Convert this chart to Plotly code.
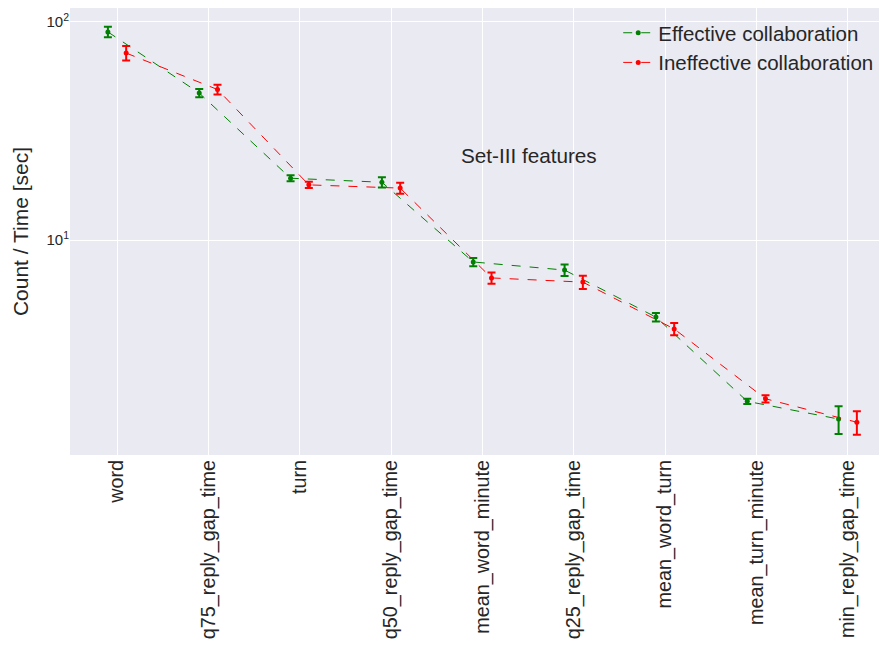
import plotly.graph_objects as go

categories = ["word", "q75_reply_gap_time", "turn", "q50_reply_gap_time",
              "mean_word_minute", "q25_reply_gap_time", "mean_word_turn",
              "mean_turn_minute", "min_reply_gap_time"]
eff_mean = [90, 47.2, 19.2, 18.4, 7.93, 7.28, 4.43, 1.82, 1.51]
eff_err = [5, 2, 0.6, 1.0, 0.35, 0.45, 0.2, 0.05, 0.22]
ineff_mean = [72, 49, 17.9, 17.3, 6.70, 6.41, 3.91, 1.87, 1.46]
ineff_err = [5.5, 2.5, 0.6, 1.0, 0.4, 0.45, 0.25, 0.07, 0.18]
ytick_vals = [10, 100]
ytick_text = ["10<sup>1</sup>", "10<sup>2</sup>"]

offset = 0.1
x_idx = list(range(len(categories)))

fig = go.Figure()
for name, mean, err, color, off in [
    ("Effective collaboration", eff_mean, eff_err, "green", -offset),
    ("Ineffective collaboration", ineff_mean, ineff_err, "red", offset),
]:
    fig.add_trace(go.Scatter(
        x=[i + off for i in x_idx], y=mean, name=name, mode="lines+markers",
        line=dict(color=color, width=1, dash="dash"),
        marker=dict(color=color, size=5),
        error_y=dict(type="data", array=err, visible=True, color=color,
                     thickness=2, width=4),
    ))

fig.add_annotation(x=0.562, y=0.671, xref="paper", yref="paper",
                   xanchor="center", yanchor="middle",
                   text="Set-III features", showarrow=False,
                   font=dict(size=20.7, color="#262626"))

fig.update_layout(
    width=879, height=642,
    margin=dict(l=62, r=0, t=0, b=195, autoexpand=False),
    paper_bgcolor="white", plot_bgcolor="#EAEAF2",
    font=dict(family="Liberation Sans, Arial, sans-serif", color="#262626"),
    showlegend=True,
    legend=dict(x=0.671, y=0.989, xanchor="left", yanchor="top",
                bgcolor="rgba(0,0,0,0)", font=dict(size=20.5)),
)
fig.update_xaxes(
    tickmode="array", tickvals=x_idx, ticktext=categories, tickangle=-90,
    range=[-0.515, 8.43], showgrid=True, gridcolor="white", gridwidth=1,
    zeroline=False, tickfont=dict(size=19.8, color="#262626"), ticks="",
    automargin=False,
)
fig.update_yaxes(
    type="log", range=[0.014, 2.064], tickmode="array", tickvals=ytick_vals,
    ticktext=ytick_text,
    showgrid=True, gridcolor="white", gridwidth=1, zeroline=False,
    tickfont=dict(size=15, color="#262626"), ticks="", automargin=False,
    title=dict(text="Count / Time [sec]", font=dict(size=21), standoff=12),
)

fig.write_html("out.html")
